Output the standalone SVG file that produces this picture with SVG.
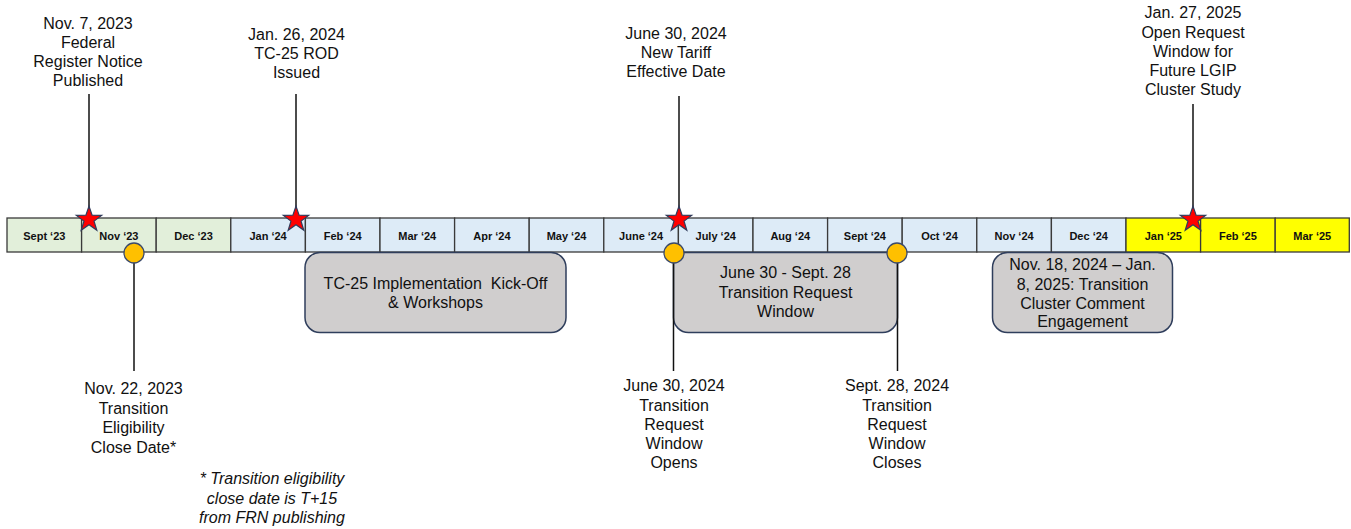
<svg xmlns="http://www.w3.org/2000/svg" width="1351" height="529" viewBox="0 0 1351 529">
<style>
.lbl{font-family:"Liberation Sans",Arial,sans-serif;font-size:16px;fill:#111;text-anchor:middle}
.note{font-family:"Liberation Sans",Arial,sans-serif;font-size:16px;font-style:italic;fill:#111;text-anchor:middle}
.mon{font-family:"Liberation Sans",Arial,sans-serif;font-size:11px;font-weight:bold;fill:#111;text-anchor:middle}
.cell{stroke:#3a3a3a;stroke-width:1.3}
.g{fill:#E2EFDA}
.b{fill:#DDEBF7}
.y{fill:#FFFF00}
.box{fill:#D0CECE;stroke:#2F3E5C;stroke-width:1.5}
.conn{stroke:#111;stroke-width:1.5;fill:none}
.dot{fill:#FFC000;stroke:#3B4A6B;stroke-width:1.3}
.star{fill:#FF0000;stroke:#2F3B5B;stroke-width:1.2}
</style>
<defs>
<polygon id="star" class="star" points="0,-13.3 3.115,-4.288 12.649,-4.11 5.041,1.638 7.818,10.76 0,5.3 -7.818,10.76 -5.041,1.638 -12.649,-4.11 -3.115,-4.288"/>
</defs>
<rect width="1351" height="529" fill="#fff"/>

<g id="timeline">
<rect class="cell g" x="7" y="218" width="74.6" height="34"/>
<rect class="cell g" x="81.6" y="218" width="74.6" height="34"/>
<rect class="cell g" x="156.2" y="218" width="74.6" height="34"/>
<rect class="cell b" x="230.8" y="218" width="74.6" height="34"/>
<rect class="cell b" x="305.4" y="218" width="74.6" height="34"/>
<rect class="cell b" x="380" y="218" width="74.6" height="34"/>
<rect class="cell b" x="454.6" y="218" width="74.6" height="34"/>
<rect class="cell b" x="529.2" y="218" width="74.6" height="34"/>
<rect class="cell b" x="603.8" y="218" width="74.6" height="34"/>
<rect class="cell b" x="678.4" y="218" width="74.6" height="34"/>
<rect class="cell b" x="753" y="218" width="74.6" height="34"/>
<rect class="cell b" x="827.6" y="218" width="74.6" height="34"/>
<rect class="cell b" x="902.2" y="218" width="74.6" height="34"/>
<rect class="cell b" x="976.8" y="218" width="74.6" height="34"/>
<rect class="cell b" x="1051.4" y="218" width="74.6" height="34"/>
<rect class="cell y" x="1126" y="218" width="74.6" height="34"/>
<rect class="cell y" x="1200.6" y="218" width="74.6" height="34"/>
<rect class="cell y" x="1275.2" y="218" width="74.1" height="34"/>
<text class="mon" x="44.3" y="239.5">Sept ‘23</text>
<text class="mon" x="118.9" y="239.5">Nov ‘23</text>
<text class="mon" x="193.5" y="239.5">Dec ‘23</text>
<text class="mon" x="268.1" y="239.5">Jan ‘24</text>
<text class="mon" x="342.7" y="239.5">Feb ‘24</text>
<text class="mon" x="417.3" y="239.5">Mar ‘24</text>
<text class="mon" x="491.9" y="239.5">Apr ‘24</text>
<text class="mon" x="566.5" y="239.5">May ‘24</text>
<text class="mon" x="641.1" y="239.5">June ‘24</text>
<text class="mon" x="715.7" y="239.5">July ‘24</text>
<text class="mon" x="790.3" y="239.5">Aug ‘24</text>
<text class="mon" x="864.9" y="239.5">Sept ‘24</text>
<text class="mon" x="939.5" y="239.5">Oct ‘24</text>
<text class="mon" x="1014.1" y="239.5">Nov ‘24</text>
<text class="mon" x="1088.7" y="239.5">Dec ‘24</text>
<text class="mon" x="1163.3" y="239.5">Jan ‘25</text>
<text class="mon" x="1237.9" y="239.5">Feb ‘25</text>
<text class="mon" x="1312.3" y="239.5">Mar ‘25</text>
</g>

<g id="box-kickoff">
<rect class="box" x="305" y="252.5" width="261" height="80" rx="15"/>
<text class="lbl" x="435.5" y="289" xml:space="preserve">TC-25 Implementation  Kick-Off</text>
<text class="lbl" x="435.5" y="308">&amp; Workshops</text>
</g>

<g id="box-window">
<path class="box" d="M673.5,252.5 H897.5 V317.5 A15,15 0 0 1 882.5,332.5 H688.5 A15,15 0 0 1 673.5,317.5 Z"/>
<text class="lbl" x="785.5" y="278">June 30 - Sept. 28</text>
<text class="lbl" x="785.5" y="297.5">Transition Request</text>
<text class="lbl" x="785.5" y="316.5">Window</text>
</g>

<g id="box-comment">
<rect class="box" x="992.5" y="252.5" width="180" height="80" rx="15"/>
<text class="lbl" x="1082.5" y="270">Nov. 18, 2024 – Jan.</text>
<text class="lbl" x="1082.5" y="289.5">8, 2025: Transition</text>
<text class="lbl" x="1082.5" y="308.5">Cluster Comment</text>
<text class="lbl" x="1082.5" y="327">Engagement</text>
</g>

<g id="connectors">
<line class="conn" x1="89" y1="94" x2="89" y2="212"/>
<line class="conn" x1="296" y1="94" x2="296" y2="212"/>
<line class="conn" x1="679" y1="96" x2="679" y2="212"/>
<line class="conn" x1="1193" y1="104" x2="1193" y2="212"/>
<line class="conn" x1="134" y1="258" x2="134" y2="371"/>
<line class="conn" x1="673.5" y1="258" x2="673.5" y2="371"/>
<line class="conn" x1="897.5" y1="258" x2="897.5" y2="371"/>
</g>

<g id="ev-nov7">
<use href="#star" x="89" y="219.5"/>
<text class="lbl" x="88" y="29">Nov. 7, 2023</text>
<text class="lbl" x="88" y="48">Federal</text>
<text class="lbl" x="88" y="67">Register Notice</text>
<text class="lbl" x="88" y="86">Published</text>
</g>

<g id="ev-jan26">
<use href="#star" x="296" y="219.5"/>
<text class="lbl" x="296.5" y="40">Jan. 26, 2024</text>
<text class="lbl" x="296.5" y="59">TC-25 ROD</text>
<text class="lbl" x="296.5" y="78">Issued</text>
</g>

<g id="ev-jun30-top">
<use href="#star" x="679" y="219.5"/>
<text class="lbl" x="676" y="39">June 30, 2024</text>
<text class="lbl" x="676" y="58">New Tariff</text>
<text class="lbl" x="676" y="77">Effective Date</text>
</g>

<g id="ev-jan27">
<use href="#star" x="1193" y="219.5"/>
<text class="lbl" x="1193" y="18">Jan. 27, 2025</text>
<text class="lbl" x="1193" y="38">Open Request</text>
<text class="lbl" x="1193" y="57">Window for</text>
<text class="lbl" x="1193" y="76">Future LGIP</text>
<text class="lbl" x="1193" y="95">Cluster Study</text>
</g>

<g id="ev-nov22">
<circle class="dot" cx="134" cy="253" r="10"/>
<text class="lbl" x="133.5" y="394">Nov. 22, 2023</text>
<text class="lbl" x="133.5" y="414">Transition</text>
<text class="lbl" x="133.5" y="433">Eligibility</text>
<text class="lbl" x="133.5" y="452.5">Close Date*</text>
</g>

<g id="ev-jun30-bottom">
<circle class="dot" cx="674" cy="253" r="10"/>
<text class="lbl" x="674" y="391">June 30, 2024</text>
<text class="lbl" x="674" y="410.5">Transition</text>
<text class="lbl" x="674" y="429.5">Request</text>
<text class="lbl" x="674" y="449">Window</text>
<text class="lbl" x="674" y="468">Opens</text>
</g>

<g id="ev-sep28">
<circle class="dot" cx="897" cy="253" r="10"/>
<text class="lbl" x="897" y="391">Sept. 28, 2024</text>
<text class="lbl" x="897" y="410.5">Transition</text>
<text class="lbl" x="897" y="429.5">Request</text>
<text class="lbl" x="897" y="449">Window</text>
<text class="lbl" x="897" y="468">Closes</text>
</g>

<g id="footnote">
<text class="note" x="272" y="484">* Transition eligibility</text>
<text class="note" x="272" y="503.5">close date is T+15</text>
<text class="note" x="272" y="523">from FRN publishing</text>
</g>
</svg>
